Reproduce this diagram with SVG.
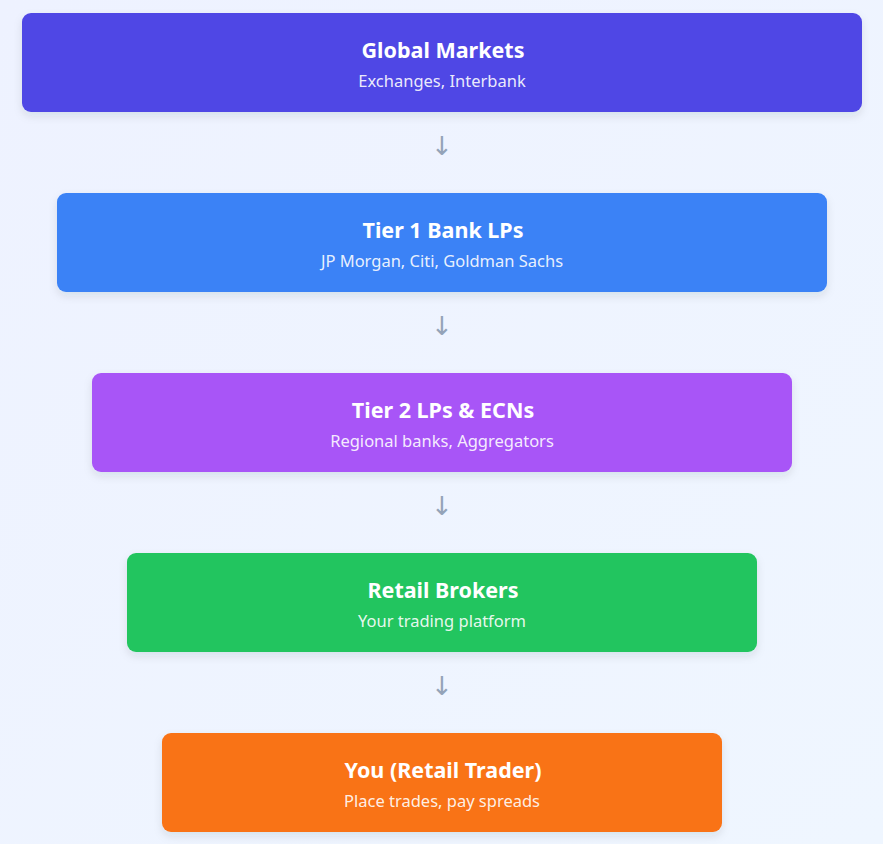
<svg xmlns="http://www.w3.org/2000/svg" width="883" height="844" viewBox="0 0 883 844">
<defs>
<linearGradient id="bg" x1="0" y1="0" x2="1" y2="1">
<stop offset="0" stop-color="#eef2ff"/>
<stop offset="1" stop-color="#eff6ff"/>
</linearGradient>
<filter id="sh" x="-10%" y="-20%" width="120%" height="150%">
<feDropShadow dx="0" dy="4" stdDeviation="4" flood-color="#1e293b" flood-opacity="0.1"/>
</filter>
</defs>
<style>
.box{filter:url(#sh)}
.t{font-family:"Noto Sans","Open Sans","Liberation Sans",sans-serif;font-size:21.5px;font-weight:700;fill:#ffffff;text-anchor:middle}
.s{font-family:"Noto Sans","Open Sans","Liberation Sans",sans-serif;font-size:16.5px;fill:#ffffff;fill-opacity:0.9;text-anchor:middle}
.a{font-family:"DejaVu Sans","Noto Sans",sans-serif;font-size:26px;fill:#94a3b8;text-anchor:middle}
</style>
<rect width="883" height="844" fill="url(#bg)"/>
<g id="connectors">
<text class="a" x="442" y="155">↓</text>
<text class="a" x="442" y="335">↓</text>
<text class="a" x="442" y="515">↓</text>
<text class="a" x="442" y="695">↓</text>
</g>
<g id="global-markets">
<rect class="box" x="22" y="13" width="840" height="99" rx="9" fill="#4f46e5"/>
<text class="t" x="443" y="58">Global Markets</text>
<text class="s" x="442" y="87">Exchanges, Interbank</text>
</g>
<g id="tier1">
<rect class="box" x="57" y="193" width="770" height="99" rx="9" fill="#3b82f6"/>
<text class="t" x="443" y="238">Tier 1 Bank LPs</text>
<text class="s" x="442" y="267">JP Morgan, Citi, Goldman Sachs</text>
</g>
<g id="tier2">
<rect class="box" x="92" y="373" width="700" height="99" rx="9" fill="#a855f7"/>
<text class="t" x="443" y="418">Tier 2 LPs &amp; ECNs</text>
<text class="s" x="442" y="447">Regional banks, Aggregators</text>
</g>
<g id="retail-brokers">
<rect class="box" x="127" y="553" width="630" height="99" rx="9" fill="#22c55e"/>
<text class="t" x="443" y="598">Retail Brokers</text>
<text class="s" x="442" y="627">Your trading platform</text>
</g>
<g id="you">
<rect class="box" x="162" y="733" width="560" height="99" rx="9" fill="#f97316"/>
<text class="t" x="443" y="778">You (Retail Trader)</text>
<text class="s" x="442" y="807">Place trades, pay spreads</text>
</g>
</svg>
